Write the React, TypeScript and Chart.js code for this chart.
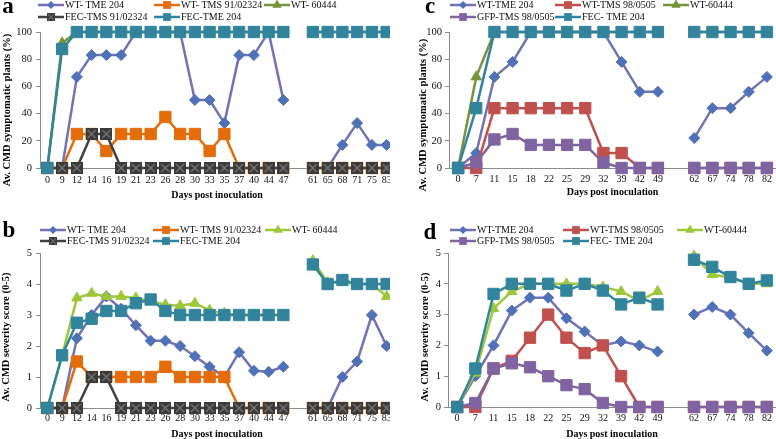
import React, { useEffect, useRef } from 'react';
import { Chart, registerables } from 'chart.js';
Chart.register(...registerables);

const FONT = '"Liberation Serif", "Times New Roman", serif';

// ---------- categories ----------
const daysAB = ['0','9','12','14','16','19','21','23','26','28','30','33','35','37','40','44','47','','61','65','68','71','75','83'];
const daysCD = ['0','7','11','15','18','22','25','29','32','39','42','49','','62','67','74','78','82'];

// ---------- panel a : symptomatic plants (%) ----------
const aWtTme204 = [0,0,67,83,83,83,100,100,100,100,50,50,33,83,83,100,50,null,0,0,17,33,17,17];
const aWtTms = [0,0,25,25,12.5,25,25,25,37.5,25,25,12.5,25,0,0,0,0,null,0,0,0,0,0,0];
const aWt60444 = [0,92,100,100,100,100,100,100,100,100,100,100,100,100,100,100,100,null,100,100,100,100,100,100];
const aFecTms = [0,0,0,25,25,0,0,0,0,0,0,0,0,0,0,0,0,null,0,0,0,0,0,0];
const aFecTme = [0,87.5,100,100,100,100,100,100,100,100,100,100,100,100,100,100,100,null,100,100,100,100,100,100];

// ---------- panel b : severity score ----------
const bWtTme204 = [0,0,2.25,3.0,3.6,3.2,2.67,2.17,2.17,2.0,1.67,1.33,1.0,1.8,1.2,1.17,1.33,null,0,0,1.0,1.5,3.0,2.0];
const bWtTms = [0,0,1.5,1.0,1.0,1.0,1.0,1.0,1.33,1.0,1.0,1.0,1.0,0,0,0,0,null,0,0,0,0,0,0];
const bWt60444 = [0,1.7,3.55,3.7,3.6,3.6,3.55,3.45,3.33,3.3,3.38,3.15,3.05,3.0,3.0,3.0,3.0,null,4.75,4.05,4.05,4.0,4.0,3.6];
const bFecTms = [0,0,0,1,1,0,0,0,0,0,0,0,0,0,0,0,0,null,0,0,0,0,0,0];
const bFecTme = [0,1.7,2.75,2.88,3.13,3.13,3.38,3.5,3.13,3.0,3.0,3.0,3.0,3.0,3.0,3.0,3.0,null,4.63,4.0,4.13,4.0,4.0,4.0];

// ---------- panel c : symptomatic plants (%) ----------
const cWtTme204 = [0,11,67,78,100,100,100,100,100,78,56,56,null,22,44,44,56,67];
const cWtTms = [0,0,44,44,44,44,44,44,11,11,0,0,null,0,0,0,0,0];
const cWt60444 = [0,67,100,100,100,100,100,100,100,100,100,100,null,100,100,100,100,100];
const cGfpTms = [0,4,21,25,17,17,17,17,4,0,0,0,null,0,0,0,0,0];
const cFecTme = [0,44,100,100,100,100,100,100,100,100,100,100,null,100,100,100,100,100];

// ---------- panel d : severity score ----------
const dWtTme204 = [0,1.0,2.0,3.13,3.55,3.55,2.88,2.45,2.0,2.13,2.0,1.8,null,3.0,3.25,3.0,2.4,1.83];
const dWtTms = [0,0,1.25,1.5,2.25,3.0,2.25,1.75,2.0,1.0,0,0,null,0,0,0,0,0];
const dWt60444 = [0,1.1,3.2,3.75,4.0,4.0,4.0,4.0,3.9,3.75,3.45,3.75,null,4.9,4.3,4.2,4.0,4.0];
const dGfpTms = [0,0.13,1.25,1.42,1.29,1.0,0.71,0.58,0.13,0,0,0,null,0,0,0,0,0];
const dFecTme = [0,1.25,3.67,4.0,4.0,4.0,3.78,4.0,3.78,3.33,3.55,3.33,null,4.78,4.55,4.22,4.0,4.11];

// ---------- colours ----------
const C_TME_LINE = '#7272B4';
const C_TME_MARK = '#5070B8';
const C_ORANGE = '#E46C0A';
const C_OLIVE = '#77933C';
const C_LIME = '#9CC83A';
const C_DARK = '#404040';
const C_TEAL = '#31849B';
const C_RED = '#C0504D';
const C_PURPLE = '#8064A2';

function makeXBox(size: number) {
  const c = document.createElement('canvas');
  c.width = size; c.height = size;
  const g = c.getContext('2d')!;
  g.fillStyle = '#3a3a3a';
  g.fillRect(0, 0, size, size);
  g.strokeStyle = '#777777';
  g.lineWidth = 1.3;
  g.beginPath();
  g.moveTo(2, 2); g.lineTo(size - 2, size - 2);
  g.moveTo(size - 2, 2); g.lineTo(2, size - 2);
  g.stroke();
  return c;
}

type SeriesDef = { label: string; data: (number | null)[]; line: string; mark: string; style: any; radius: number };

function drawMarker(ctx: CanvasRenderingContext2D, style: any, x: number, y: number, r: number, fill: string) {
  if (typeof style === 'object' && style) {
    const s = r * 1.5;
    ctx.drawImage(style, x - s / 2, y - s / 2, s, s);
    return;
  }
  ctx.beginPath();
  if (style === 'rect') {
    const h = r * Math.SQRT1_2;
    ctx.rect(x - h, y - h, 2 * h, 2 * h);
  } else if (style === 'rectRot') {
    ctx.moveTo(x - r, y); ctx.lineTo(x, y - r); ctx.lineTo(x + r, y); ctx.lineTo(x, y + r); ctx.closePath();
  } else {
    ctx.moveTo(x, y - r); ctx.lineTo(x + r * 0.866, y + r * 0.5); ctx.lineTo(x - r * 0.866, y + r * 0.5); ctx.closePath();
  }
  ctx.fillStyle = fill;
  ctx.fill();
}

type PanelSpec = {
  labels: string[];
  series: SeriesDef[];
  yMax: number; yStep: number;
  yWidth: number; padTop: number; xHeight: number; xTickPad: number; xTitlePadB: number; yTickPad: number;
  letter: string; letterX: number; letterY: number;
  yTitle: string; yTitleX: number; yTitleY: number;
  legend: { idx: number; lx: number; ly: number }[];
};

function overlayPlugin(spec: PanelSpec) {
  return {
    id: 'overlay' + spec.letter,
    afterDraw(chart: any) {
      const ctx: CanvasRenderingContext2D = chart.ctx;
      ctx.save();
      ctx.fillStyle = '#000';
      ctx.textAlign = 'center';
      ctx.textBaseline = 'middle';
      ctx.font = `bold 23px ${FONT}`;
      ctx.fillText(spec.letter, spec.letterX, spec.letterY);
      ctx.save();
      ctx.translate(spec.yTitleX, spec.yTitleY);
      ctx.rotate(-Math.PI / 2);
      ctx.font = `bold 10.5px ${FONT}`;
      ctx.fillText(spec.yTitle, 0, 0);
      ctx.restore();
      ctx.font = `10px ${FONT}`;
      ctx.textAlign = 'left';
      for (const it of spec.legend) {
        const s = spec.series[it.idx];
        ctx.strokeStyle = s.line;
        ctx.lineWidth = 2.5;
        ctx.beginPath();
        ctx.moveTo(it.lx, it.ly);
        ctx.lineTo(it.lx + 26, it.ly);
        ctx.stroke();
        drawMarker(ctx, s.style, it.lx + 13, it.ly, s.style === 'rectRot' ? 4 : 5.5, s.mark);
        ctx.fillStyle = '#111';
        ctx.fillText(s.label, it.lx + 27, it.ly + 0.5);
      }
      ctx.restore();
    },
  };
}

function buildChart(canvas: HTMLCanvasElement, spec: PanelSpec) {
  const n = spec.series.length;
  const datasets = spec.series.map((s, i) => ({
    label: s.label,
    data: s.data,
    borderColor: s.line,
    backgroundColor: s.mark,
    pointBackgroundColor: s.mark,
    pointBorderColor: s.mark,
    pointStyle: s.style,
    pointRadius: s.radius,
    pointHoverRadius: s.radius,
    pointBorderWidth: 1,
    borderWidth: 2.5,
    tension: 0,
    spanGaps: false,
    clip: false as any,
    order: n - 1 - i,
  }));
  return new Chart(canvas, {
    type: 'line',
    data: { labels: spec.labels, datasets },
    options: {
      animation: false,
      responsive: false,
      events: [],
      layout: { autoPadding: false, padding: { top: spec.padTop, left: 0, right: 0, bottom: 0 } },
      plugins: { legend: { display: false }, tooltip: { enabled: false }, title: { display: false } },
      scales: {
        x: {
          type: 'category',
          offset: true,
          grid: { display: false, drawTicks: false },
          border: { display: true, color: '#8c8c8c', width: 1 },
          ticks: { autoSkip: false, maxRotation: 0, padding: spec.xTickPad, color: '#111', font: { family: FONT, size: 10 } },
          title: {
            display: true, text: 'Days post inoculation', color: '#000',
            font: { family: FONT, size: 10, weight: 'bold', lineHeight: 1 },
            padding: { top: 0, bottom: spec.xTitlePadB },
          },
          afterFit: (sc: any) => { sc.height = spec.xHeight; sc.paddingLeft = 0; sc.paddingRight = 0; },
        },
        y: {
          min: 0, max: spec.yMax,
          ticks: { stepSize: spec.yStep, padding: spec.yTickPad, color: '#111', font: { family: FONT, size: 10.5 } },
          grid: { display: true, drawOnChartArea: false, drawTicks: true, tickLength: 4, color: '#8c8c8c' },
          border: { display: true, color: '#8c8c8c', width: 1 },
          title: { display: false },
          afterFit: (sc: any) => { sc.width = spec.yWidth; sc.paddingTop = 0; sc.paddingBottom = 0; },
        },
      },
    } as any,
    plugins: [overlayPlugin(spec)],
  });
}

export default function App() {
  const ra = useRef<HTMLCanvasElement>(null);
  const rb = useRef<HTMLCanvasElement>(null);
  const rc = useRef<HTMLCanvasElement>(null);
  const rd = useRef<HTMLCanvasElement>(null);

  useEffect(() => {
    const xbox = makeXBox(12);
    const legendAB = (cols: number[], rows: number[]) => [
      { idx: 0, lx: cols[0], ly: rows[0] },
      { idx: 1, lx: cols[1], ly: rows[0] },
      { idx: 2, lx: cols[2], ly: rows[0] },
      { idx: 3, lx: cols[0], ly: rows[1] },
      { idx: 4, lx: cols[1], ly: rows[1] },
    ];
    const specA: PanelSpec = {
      labels: daysAB,
      series: [
        { label: 'WT- TME 204', data: aWtTme204, line: C_TME_LINE, mark: C_TME_MARK, style: 'rectRot', radius: 5.5 },
        { label: 'WT- TMS 91/02324', data: aWtTms, line: C_ORANGE, mark: C_ORANGE, style: 'rect', radius: 8 },
        { label: 'WT- 60444', data: aWt60444, line: C_OLIVE, mark: C_OLIVE, style: 'triangle', radius: 6 },
        { label: 'FEC-TMS 91/02324', data: aFecTms, line: C_DARK, mark: C_DARK, style: xbox, radius: 6 },
        { label: 'FEC-TME 204', data: aFecTme, line: C_TEAL, mark: C_TEAL, style: 'rect', radius: 8 },
      ],
      yMax: 100, yStep: 10,
      yWidth: 40, padTop: 32, xHeight: 47, xTickPad: 6, xTitlePadB: 15, yTickPad: 4,
      letter: 'a', letterX: 8, letterY: 7,
      yTitle: 'Av. CMD symptomatic plants (%)', yTitleX: 7, yTitleY: 110,
      legend: legendAB([38, 154, 264], [5, 17]),
    };
    const specB: PanelSpec = {
      labels: daysAB,
      series: [
        { label: 'WT- TME 204', data: bWtTme204, line: C_TME_LINE, mark: C_TME_MARK, style: 'rectRot', radius: 5.5 },
        { label: 'WT- TMS 91/02324', data: bWtTms, line: C_ORANGE, mark: C_ORANGE, style: 'rect', radius: 8 },
        { label: 'WT- 60444', data: bWt60444, line: C_LIME, mark: C_LIME, style: 'triangle', radius: 6 },
        { label: 'FEC-TMS 91/02324', data: bFecTms, line: C_DARK, mark: C_DARK, style: xbox, radius: 6 },
        { label: 'FEC-TME 204', data: bFecTme, line: C_TEAL, mark: C_TEAL, style: 'rect', radius: 8 },
      ],
      yMax: 5, yStep: 1,
      yWidth: 40, padTop: 38, xHeight: 31, xTickPad: 4, xTitlePadB: 0, yTickPad: 4,
      letter: 'b', letterX: 9, letterY: 16,
      yTitle: 'Av. CMD severity score (0-5)', yTitleX: 6, yTitleY: 122,
      legend: legendAB([40, 153, 265], [15, 26]),
    };
    const specC: PanelSpec = {
      labels: daysCD,
      series: [
        { label: 'WT-TME 204', data: cWtTme204, line: C_TME_LINE, mark: C_TME_MARK, style: 'rectRot', radius: 5.5 },
        { label: 'WT-TMS 98/0505', data: cWtTms, line: C_RED, mark: C_RED, style: 'rect', radius: 8 },
        { label: 'WT-60444', data: cWt60444, line: C_OLIVE, mark: C_OLIVE, style: 'triangle', radius: 6 },
        { label: 'GFP-TMS 98/0505', data: cGfpTms, line: C_PURPLE, mark: C_PURPLE, style: 'rect', radius: 8 },
        { label: 'FEC- TME 204', data: cFecTme, line: C_TEAL, mark: C_TEAL, style: 'rect', radius: 8 },
      ],
      yMax: 100, yStep: 10,
      yWidth: 59, padTop: 32, xHeight: 47, xTickPad: 5, xTitlePadB: 18, yTickPad: 3,
      letter: 'c', letterX: 40, letterY: 7,
      yTitle: 'Av. CMD symptomatic plants (%)', yTitleX: 33, yTitleY: 115,
      legend: legendAB([60, 165, 273], [5, 17]),
    };
    const specD: PanelSpec = {
      labels: daysCD,
      series: [
        { label: 'WT-TME 204', data: dWtTme204, line: C_TME_LINE, mark: C_TME_MARK, style: 'rectRot', radius: 5.5 },
        { label: 'WT-TMS 98/0505', data: dWtTms, line: C_RED, mark: C_RED, style: 'rect', radius: 8 },
        { label: 'WT-60444', data: dWt60444, line: C_LIME, mark: C_LIME, style: 'triangle', radius: 6 },
        { label: 'GFP-TMS 98/0505', data: dGfpTms, line: C_PURPLE, mark: C_PURPLE, style: 'rect', radius: 8 },
        { label: 'FEC- TME 204', data: dFecTme, line: C_TEAL, mark: C_TEAL, style: 'rect', radius: 8 },
      ],
      yMax: 5, yStep: 1,
      yWidth: 58, padTop: 38, xHeight: 32, xTickPad: 5, xTitlePadB: 0, yTickPad: 3,
      letter: 'd', letterX: 40, letterY: 18,
      yTitle: 'Av. CMD severity score (0-5)', yTitleX: 35, yTitleY: 122,
      legend: legendAB([60, 173, 287], [15, 26]),
    };
    const charts = [
      buildChart(ra.current!, specA),
      buildChart(rb.current!, specB),
      buildChart(rc.current!, specC),
      buildChart(rd.current!, specD),
    ];
    return () => charts.forEach((c) => c.destroy());
  }, []);

  const base: React.CSSProperties = { position: 'absolute', display: 'block' };
  return (
    <div style={{ position: 'absolute', left: 0, top: 0, width: 776, height: 439, background: '#fff', overflow: 'hidden' }}>
      <canvas ref={ra} width={394} height={215} style={{ ...base, left: 0, top: 0, width: 394, height: 215 }} />
      <canvas ref={rb} width={394} height={224} style={{ ...base, left: 0, top: 215, width: 394, height: 224 }} />
      <canvas ref={rc} width={386} height={215} style={{ ...base, left: 390, top: 0, width: 386, height: 215, background: '#fff' }} />
      <canvas ref={rd} width={386} height={224} style={{ ...base, left: 390, top: 215, width: 386, height: 224, background: '#fff' }} />
    </div>
  );
}
